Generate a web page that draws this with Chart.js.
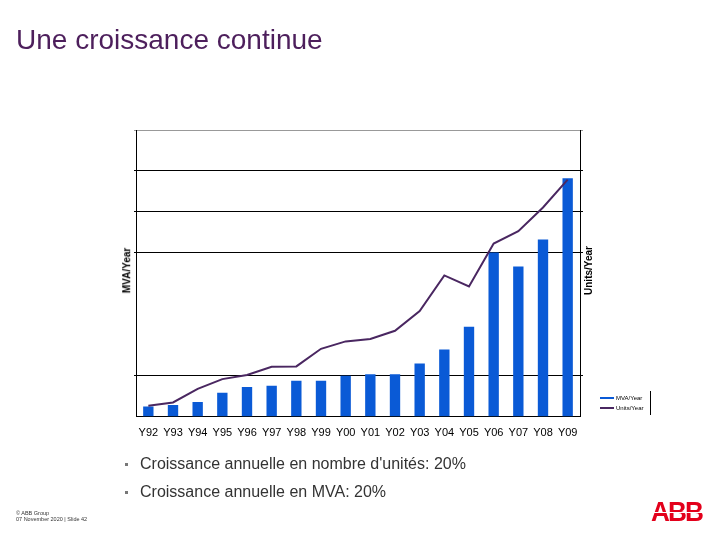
<!DOCTYPE html>
<html>
<head>
<meta charset="utf-8">
<script src="https://cdn.jsdelivr.net/npm/chart.js@4/dist/chart.umd.min.js"></script>
<style>
  html, body { margin: 0; padding: 0; background: #fff; }
  #page { position: relative; width: 720px; height: 540px; overflow: hidden; font-family: Arial, "Liberation Sans", sans-serif; }
  #chart { position: absolute; left: 0; top: 0; }
  .title { position: absolute; left: 16px; top: 24px; font-size: 28px; color: #4d1f5c; white-space: nowrap; }
  .axis-title { position: absolute; font-size: 10px; font-weight: bold; color: #000; white-space: nowrap; transform: rotate(-90deg); transform-origin: center; }
  .bullet { position: absolute; left: 125px; font-size: 16px; color: #333; white-space: nowrap; }
  .bullet::before { content: ""; display: inline-block; width: 3px; height: 3px; background: #777; margin-right: 12px; vertical-align: middle; }
  .legend { position: absolute; left: 600px; top: 393px; font-size: 6px; color: #000; }
  .legend div { height: 10px; line-height: 10px; white-space: nowrap; }
  .legend span { display: inline-block; width: 14px; height: 2px; vertical-align: middle; margin-right: 2px; }
  .legend-bar { position: absolute; left: 650px; top: 391px; width: 1px; height: 24px; background: #000; }
  .footer { position: absolute; left: 16px; top: 510px; font-size: 5.5px; line-height: 6px; color: #333; }
  .logo { position: absolute; left: 651px; top: 497px; font-size: 27px; font-weight: 900; color: #e3001b; letter-spacing: -2px; transform: scaleX(0.97); transform-origin: left; }
  .logo-cut { position: absolute; left: 650px; top: 512px; width: 56px; height: 1px; background: #fff; }
</style>
</head>
<body>
<div id="page">
  <canvas id="chart" width="720" height="540"></canvas>
  <div class="title">Une croissance continue</div>
  <div class="axis-title" style="left: 104px; top: 265px;">MVA/Year</div>
  <div class="axis-title" style="left: 564px; top: 265px;">Units/Year</div>
  <div class="legend">
    <div><span style="background:#0a5ad6"></span>MVA/Year</div>
    <div><span style="background:#4a2761"></span>Units/Year</div>
  </div>
  <div class="legend-bar"></div>
  <div class="bullet" style="top: 455px;">Croissance annuelle en nombre d'unités: 20%</div>
  <div class="bullet" style="top: 483px;">Croissance annuelle en MVA: 20%</div>
  <div class="footer">© ABB Group<br>07 November 2020 | Slide 42</div>
  <div class="logo">ABB</div>
  <div class="logo-cut"></div>
</div>
<script>
// years shown on the x axis
const years = ['Y92', 'Y93', 'Y94', 'Y95', 'Y96', 'Y97', 'Y98', 'Y99', 'Y00', 'Y01', 'Y02', 'Y03', 'Y04', 'Y05', 'Y06', 'Y07', 'Y08', 'Y09'];

// MVA per year (bars, left axis), arbitrary units
const mvaPerYear = [0.25, 0.29, 0.36, 0.59, 0.73, 0.76, 0.88, 0.88, 1.0, 1.04, 1.04, 1.30, 1.64, 2.20, 4.01, 3.67, 4.33, 5.82];

// units per year (line, right axis)
const unitsPerYear = [0.27, 0.35, 0.68, 0.92, 1.02, 1.22, 1.23, 1.66, 1.84, 1.90, 2.10, 2.58, 3.45, 3.18, 4.23, 4.53, 5.11, 5.79];

// gridlines that are actually drawn in the original slide
const shownGrid = [1, 4, 5, 6];

function gridColor(ctx) {
  const v = ctx.tick ? ctx.tick.value : null;
  if (v === 7) return '#999';
  if (shownGrid.includes(v)) return '#000';
  return 'rgba(0,0,0,0)';
}

new Chart(document.getElementById('chart'), {
  data: {
    labels: years,
    datasets: [
      {
        type: 'line',
        label: 'Units/Year',
        data: unitsPerYear,
        yAxisID: 'y1',
        borderColor: '#4a2761',
        borderWidth: 2,
        pointRadius: 0,
        tension: 0,
        order: 0,
      },
      {
        type: 'bar',
        label: 'MVA/Year',
        data: mvaPerYear,
        yAxisID: 'y',
        backgroundColor: '#0a5ad6',
        categoryPercentage: 1,
        barPercentage: 0.42,
        order: 1,
      },
    ],
  },
  options: {
    responsive: false,
    animation: false,
    layout: { padding: { left: 134, right: 137, top: 130, bottom: 90 } },
    plugins: { legend: { display: false }, tooltip: { enabled: false } },
    scales: {
      x: {
        grid: { display: false, drawTicks: false },
        border: { color: '#000', width: 1 },
        ticks: { color: '#000', font: { family: 'Arial', size: 11 }, padding: 10, maxRotation: 0, autoSkip: false },
      },
      y: {
        position: 'left',
        min: 0,
        max: 7,
        ticks: { display: false, stepSize: 1 },
        grid: { color: gridColor, tickLength: 2 },
        border: { color: '#000', width: 1 },
      },
      y1: {
        position: 'right',
        min: 0,
        max: 7,
        ticks: { display: false, stepSize: 1 },
        grid: { drawOnChartArea: false, color: gridColor, tickLength: 3 },
        border: { color: '#000', width: 1 },
      },
    },
  },
});
</script>
</body>
</html>
